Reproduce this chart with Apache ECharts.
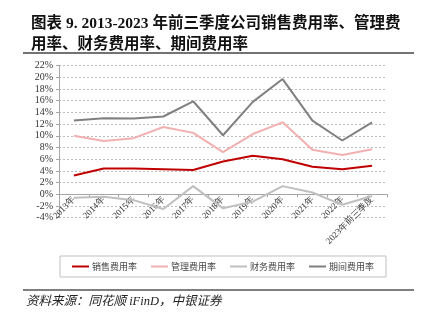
<!DOCTYPE html>
<html>
<head>
<meta charset="utf-8">
<script src="https://cdn.jsdelivr.net/npm/echarts@6/dist/echarts.min.js"></script>
<style>
  html, body { margin: 0; padding: 0; background: #fff; }
  #chart { width: 429px; height: 325px; }
</style>
</head>
<body>
<div id="chart"></div>
<script>
// 年份类目
const categories = ['2013年', '2014年', '2015年', '2016年', '2017年', '2018年',
  '2019年', '2020年', '2021年', '2022年', '2023年前三季度'];
// 各项费用率（%）
const salesRate = [3.2, 4.4, 4.4, 4.3, 4.15, 5.6, 6.6, 6.0, 4.7, 4.3, 4.9];
const adminRate = [10.0, 9.1, 9.6, 11.5, 10.5, 7.2, 10.3, 12.3, 7.6, 6.7, 7.7];
const financeRate = [-0.6, -0.4, -1.0, -2.5, 1.4, -2.4, -1.25, 1.4, 0.3, -1.8, -0.3];
const periodRate = [12.6, 13.0, 12.95, 13.3, 15.9, 10.1, 15.8, 19.7, 12.6, 9.2, 12.3];
const seriesNames = ['销售费用率', '管理费用率', '财务费用率', '期间费用率'];
const seriesColors = ['#C00000', '#F2B0B0', '#BFBFBF', '#808080'];
// 纵轴刻度范围
const yMin = -4, yMax = 22, yStep = 2;

const serif = '"Liberation Serif", "Times New Roman", serif';
const cjk = '"Noto Sans CJK SC", sans-serif';

const gridTop = 65.6, gridBottom = 107.3;
const plotHeight = 325 - gridTop - gridBottom;
// 横轴放在 0% 处：相对网格底部向上偏移
const zeroOffset = -plotHeight * (0 - yMin) / (yMax - yMin);

const chart = echarts.init(document.getElementById('chart'), null, { renderer: 'canvas' });
const values = [salesRate, adminRate, financeRate, periodRate];

chart.setOption({
  animation: false,
  backgroundColor: '#fff',
  title: {
    text: '图表 9. 2013-2023 年前三季度公司销售费用率、管理费\n用率、财务费用率、期间费用率',
    left: 26, top: 8,
    textStyle: {
      fontFamily: '"Liberation Serif", "Noto Sans CJK SC", serif',
      fontWeight: 'bold', fontSize: 15.5, lineHeight: 21, color: '#111'
    }
  },
  graphic: [
    { type: 'line', shape: { x1: 23, y1: 53, x2: 414, y2: 53 }, style: { stroke: '#444', lineWidth: 1.5 } },
    { type: 'line', shape: { x1: 23, y1: 290, x2: 414, y2: 290 }, style: { stroke: '#555', lineWidth: 1.5 } },
    { type: 'text', left: 26, top: 295, style: {
        text: '资料来源：同花顺 iFinD，中银证券',
        font: 'italic 12.5px "Liberation Serif", "Noto Sans CJK SC", serif', fill: '#222' } }
  ],
  legend: {
    data: seriesNames,
    left: 60, top: 256,
    padding: [6, 12, 6, 12],
    borderColor: '#BFBFBF', borderWidth: 1,
    itemWidth: 17, itemHeight: 2, itemGap: 14,
    icon: 'rect',
    textStyle: { fontFamily: cjk, fontSize: 9, color: '#444', padding: [0, 0, 0, -2] }
  },
  grid: { left: 59, right: 42, top: gridTop, bottom: gridBottom },
  xAxis: {
    type: 'category',
    data: categories,
    boundaryGap: true,
    position: 'bottom',
    offset: zeroOffset,
    axisLine: { onZero: false, lineStyle: { color: '#A6A6A6', width: 1 } },
    axisTick: { show: true, length: 3, lineStyle: { color: '#A6A6A6' } },
    axisLabel: { rotate: 45, fontFamily: serif, fontSize: 9, color: '#333', margin: 4, interval: 0 }
  },
  yAxis: {
    type: 'value',
    min: yMin, max: yMax, interval: yStep,
    axisLine: { show: true, lineStyle: { color: '#A6A6A6' } },
    axisTick: { show: true, length: 3, lineStyle: { color: '#A6A6A6' } },
    axisLabel: { formatter: '{value}%', fontFamily: serif, fontSize: 10, color: '#333', margin: 6 },
    splitLine: { lineStyle: { color: '#BDBDBD', type: [2, 2], width: 1 } }
  },
  series: seriesNames.map((name, i) => ({
    name: name,
    type: 'line',
    data: values[i],
    symbol: 'none',
    lineStyle: { color: seriesColors[i], width: 2 },
    itemStyle: { color: seriesColors[i] }
  }))
});
</script>
</body>
</html>
